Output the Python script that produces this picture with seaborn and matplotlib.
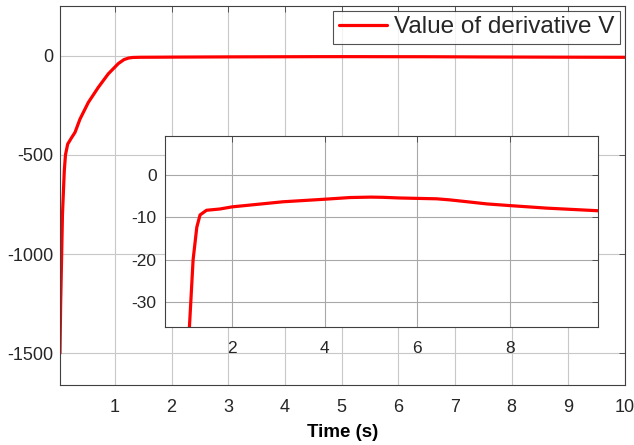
import matplotlib
matplotlib.use("Agg")
import matplotlib.pyplot as plt
import seaborn as sns
import pandas as pd

# time (s) and value of derivative V
time_s = [0.03, 0.042, 0.06, 0.074, 0.106, 0.127, 0.166, 0.236, 0.295, 0.383,
          0.53, 0.706, 0.882, 1.06, 1.16, 1.24, 1.31, 1.45, 1.74, 2.0,
          3.1, 4.0, 4.55, 5.0, 5.26, 5.6, 6.0, 6.42, 6.7, 7.0, 7.5, 8.0, 8.8, 9.88, 10.0]
dV = [-1500, -1250, -1000, -800, -581, -500, -446, -413, -387, -320,
      -236, -160, -92, -40, -20, -12.3, -9.4, -8.3, -8.0, -7.5,
      -6.3, -5.7, -5.3, -5.2, -5.25, -5.4, -5.5, -5.6, -5.85, -6.2, -6.8, -7.2, -7.8, -8.4, -8.5]

main_xticks = [1, 2, 3, 4, 5, 6, 7, 8, 9, 10]
main_yticks = [0, -500, -1000, -1500]
inset_xticks = [2, 4, 6, 8]
inset_yticks = [0, -10, -20, -30]

df = pd.DataFrame({"t": time_s, "v": dV})

sns.set_style("white")
plt.rcParams["font.family"] = ["Liberation Sans", "DejaVu Sans"]
plt.rcParams["axes.unicode_minus"] = False

fig = plt.figure(figsize=(6.34, 4.45), dpi=100)
ax = fig.add_axes([0.0946, 0.1348, 0.8912, 0.8517])
sns.lineplot(data=df, x="t", y="v", ax=ax, color="#ff0000", linewidth=2.3,
             label="Value of derivative V", sort=False)
ax.set_xlim(0.03, 10)
ax.set_ylim(-1660, 250)
ax.set_xticks(main_xticks)
ax.set_yticks(main_yticks)
ax.set_xlabel("Time (s)", fontsize=13.5, fontweight="bold", color="#000000", labelpad=6)
ax.set_ylabel("")

def style(a, fs, padx, pady):
    a.grid(True, color="#c8c8c8", linewidth=0.8)
    a.tick_params(direction="in", top=True, right=True, length=4, width=0.6,
                  colors="#404040", labelsize=fs, labelcolor="#262626")
    a.tick_params(axis="x", pad=padx)
    a.tick_params(axis="y", pad=pady)
    for s in a.spines.values():
        s.set_color("#404040")
        s.set_linewidth(0.8)

style(ax, 13, 10, 5)
leg = ax.legend(loc="upper right", fontsize=17.5, frameon=True, fancybox=False,
                edgecolor="#262626", borderaxespad=0.2, handlelength=2.0,
                borderpad=0.22, handletextpad=0.3)
leg.get_frame().set_linewidth(0.8)

ins = fig.add_axes([0.260, 0.2652, 0.683, 0.4292])
ins.set_facecolor("white")
sns.lineplot(data=df, x="t", y="v", ax=ins, color="#ff0000", linewidth=2.3,
             legend=False, sort=False)
ins.set_xlim(0.55, 9.9)
ins.set_ylim(-35.8, 9.2)
ins.set_xticks(inset_xticks)
ins.set_yticks(inset_yticks)
ins.set_xlabel("")
ins.set_ylabel("")
style(ins, 12.5, 10, 6)
ins.grid(True, color="#a8a8a8", linewidth=0.8)

fig.savefig("out.png", dpi=100)
